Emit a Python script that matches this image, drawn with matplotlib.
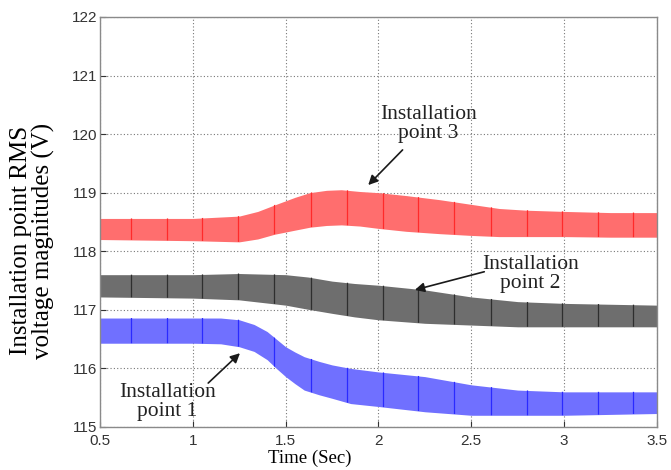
import matplotlib.pyplot as plt
import numpy as np

# band edges (upper / lower envelope of each RMS trace)
t_red = [0.5, 0.75, 1.0, 1.25, 1.35, 1.44, 1.55, 1.63, 1.72, 1.8, 1.9, 2.0, 2.15, 2.33, 2.5, 2.65, 2.8, 3.0, 3.25, 3.5]
hi_red = [118.56, 118.56, 118.56, 118.60, 118.68, 118.79, 118.92, 119.00, 119.04, 119.05, 119.02, 119.00, 118.95, 118.88, 118.80, 118.73, 118.70, 118.68, 118.66, 118.66]
lo_red = [118.20, 118.19, 118.18, 118.16, 118.21, 118.29, 118.36, 118.41, 118.44, 118.45, 118.43, 118.39, 118.34, 118.30, 118.27, 118.25, 118.25, 118.25, 118.24, 118.24]

t_gray = [0.5, 1.0, 1.25, 1.5, 1.62, 1.75, 1.87, 2.0, 2.25, 2.5, 2.75, 3.0, 3.5]
hi_gray = [117.60, 117.60, 117.62, 117.60, 117.56, 117.49, 117.45, 117.42, 117.34, 117.22, 117.14, 117.11, 117.08]
lo_gray = [117.22, 117.20, 117.17, 117.08, 117.01, 116.94, 116.88, 116.83, 116.77, 116.74, 116.71, 116.71, 116.71]

t_blue = [0.5, 1.0, 1.15, 1.25, 1.33, 1.4, 1.45, 1.5, 1.55, 1.6, 1.68, 1.75, 1.85, 2.0, 2.25, 2.5, 2.75, 3.0, 3.5]
hi_blue = [116.86, 116.86, 116.86, 116.83, 116.75, 116.63, 116.50, 116.37, 116.28, 116.20, 116.12, 116.06, 116.00, 115.94, 115.86, 115.72, 115.63, 115.60, 115.60]
lo_blue = [116.43, 116.43, 116.42, 116.37, 116.29, 116.15, 116.00, 115.86, 115.74, 115.63, 115.55, 115.49, 115.40, 115.35, 115.26, 115.20, 115.20, 115.20, 115.23]

# periodic dark streaks inside the bands
t_marks = [0.667, 0.859, 1.05, 1.245, 1.44, 1.635, 1.828, 2.022, 2.214, 2.408, 2.604, 2.798, 2.99, 3.18, 3.37]

xticks = [0.5, 1, 1.5, 2, 2.5, 3, 3.5]
xticklabels = ['0.5', '1', '1.5', '2', '2.5', '3', '3.5']
yticks = [115, 116, 117, 118, 119, 120, 121, 122]

serif = 'Liberation Serif'
plt.rcParams['font.family'] = 'Liberation Sans'

fig = plt.figure(figsize=(6.71, 4.70), dpi=100)
ax = fig.add_axes([0.149, 0.0915, 0.830, 0.8725])

bands = [(t_red, hi_red, lo_red, '#ff6e6e', '#ff2a2a'),
         (t_gray, hi_gray, lo_gray, '#6e6e6e', '#2e2e2e'),
         (t_blue, hi_blue, lo_blue, '#7070ff', '#2a2aff')]
for t, hi, lo, fc, lc in bands:
    poly = ax.fill_between(t, lo, hi, color=fc, lw=0, zorder=2)
    vl = ax.vlines(t_marks, 115, 122, color=lc, lw=0.9, zorder=3)
    vl.set_clip_path(poly.get_paths()[0], poly.get_transform())

ax.set_xlim(0.5, 3.5)
ax.set_ylim(115, 122)
ax.set_xticks(xticks)
ax.set_xticklabels(xticklabels)
ax.set_yticks(yticks)
ax.grid(True, ls=(0, (1, 2)), color='#777777', lw=0.8, zorder=1)
ax.set_axisbelow(True)
ax.tick_params(direction='in', length=4, labelsize=11, colors='#333333', pad=2)
ax.tick_params(axis='x', pad=5)
for s in ax.spines.values():
    s.set_color('#8a8a8a')
    s.set_linewidth(1.0)

ax.set_xlabel('Time (Sec)', family=serif, fontsize=13.5)
ax.xaxis.set_label_coords(0.377, -0.055)
ax.set_ylabel('Installation point RMS\nvoltage magnitudes (V)', family=serif, fontsize=18, linespacing=1.0)
ax.yaxis.set_label_coords(-0.081, 0.454)

arrow = dict(arrowstyle='-|>', color='#1a1a1a', lw=1.2, mutation_scale=14, shrinkA=0, shrinkB=0)
ax.annotate('', xy=(1.945, 119.13), xytext=(2.13, 119.73), arrowprops=arrow)
ax.text(2.27, 120.17, 'Installation\npoint 3', family=serif, fontsize=15.5,
        ha='center', va='center', linespacing=1.0, color='#222222')
ax.annotate('', xy=(2.196, 117.34), xytext=(2.57, 117.65), arrowprops=arrow)
ax.text(2.82, 117.62, 'Installation\npoint 2', family=serif, fontsize=15.5,
        ha='center', va='center', linespacing=1.0, color='#222222')
ax.annotate('', xy=(1.254, 116.26), xytext=(1.083, 115.75), arrowprops=arrow)
ax.text(0.863, 115.42, 'Installation\npoint 1', family=serif, fontsize=15.5,
        ha='center', va='center', linespacing=1.0, color='#222222')

fig.savefig('out.png', dpi=100)
